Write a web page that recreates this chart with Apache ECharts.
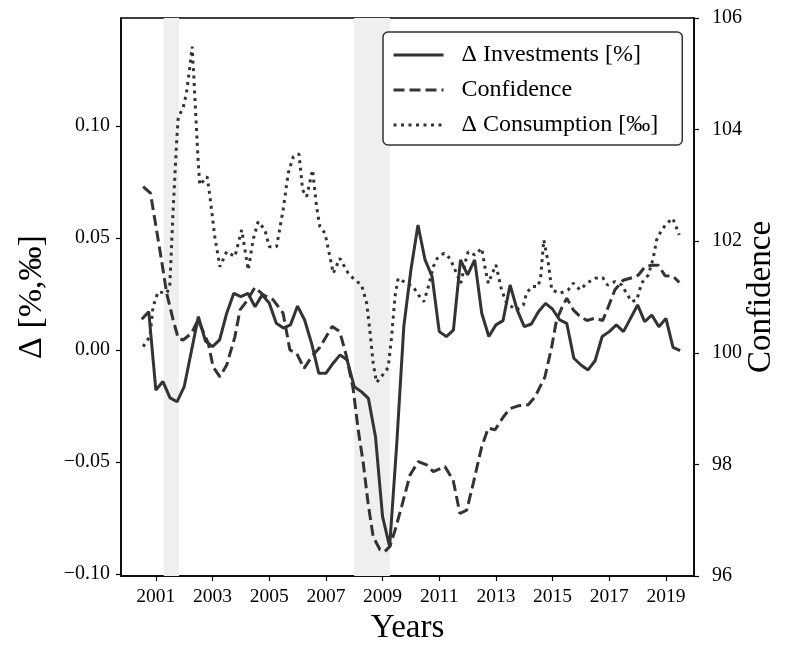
<!DOCTYPE html>
<html>
<head>
<meta charset="utf-8">
<script src="https://cdn.jsdelivr.net/npm/echarts@6/dist/echarts.min.js"></script>
<style>
  html, body { margin: 0; padding: 0; background: #fff; }
  #chart { width: 788px; height: 657px; }
</style>
</head>
<body>
<div id="chart"></div>
<script>
// quarterly dates (decimal years) for investments
var quarters = [2000.5, 2000.75,
  2001, 2001.25, 2001.5, 2001.75, 2002, 2002.25, 2002.5, 2002.75,
  2003, 2003.25, 2003.5, 2003.75, 2004, 2004.25, 2004.5, 2004.75,
  2005, 2005.25, 2005.5, 2005.75, 2006, 2006.25, 2006.5, 2006.75,
  2007, 2007.25, 2007.5, 2007.75, 2008, 2008.25, 2008.5, 2008.75,
  2009, 2009.25, 2009.5, 2009.75, 2010, 2010.25, 2010.5, 2010.75,
  2011, 2011.25, 2011.5, 2011.75, 2012, 2012.25, 2012.5, 2012.75,
  2013, 2013.25, 2013.5, 2013.75, 2014, 2014.25, 2014.5, 2014.75,
  2015, 2015.25, 2015.5, 2015.75, 2016, 2016.25, 2016.5, 2016.75,
  2017, 2017.25, 2017.5, 2017.75, 2018, 2018.25, 2018.5, 2018.75,
  2019, 2019.25, 2019.5];

var investValues = [0.0137, 0.0171,
  -0.0179, -0.0141, -0.0214, -0.0231, -0.0164, -0.0008, 0.0149, 0.004,
  0.0015, 0.0045, 0.0164, 0.0253, 0.0238, 0.0253, 0.0193, 0.0246,
  0.021, 0.0119, 0.0098, 0.0112, 0.0196, 0.0134, 0.0027, -0.0104,
  -0.0104, -0.006, -0.0022, -0.0045, -0.0164, -0.0186, -0.0216, -0.0387,
  -0.0744, -0.0878, -0.042, 0.0105, 0.0357, 0.0558, 0.0402, 0.0327,
  0.0082, 0.006, 0.0089, 0.0402, 0.0335, 0.0402, 0.0164, 0.006,
  0.0112, 0.0131, 0.029, 0.0179, 0.0104, 0.0116, 0.0171, 0.0208,
  0.0182, 0.0134, 0.0119, -0.0037, -0.0067, -0.0089, -0.0048, 0.006,
  0.0082, 0.0112, 0.0082, 0.0141, 0.0201, 0.0126, 0.0156, 0.0104,
  0.0141, 0.0012, -0.0003];

// confidence index (right axis)
var confYears = [2000.55, 2000.81, 2001.2, 2001.38, 2001.61, 2001.79, 2001.96, 2002.26, 2002.49, 2002.85,
  2003.02, 2003.26, 2003.5, 2003.79, 2003.97, 2004.2, 2004.49, 2004.79, 2005.14, 2005.49,
  2005.73, 2005.97, 2006.23, 2006.5, 2006.79, 2007.22, 2007.49, 2007.73, 2007.96, 2008.14,
  2008.32, 2008.49, 2008.67, 2008.91, 2009.08, 2009.26, 2009.44, 2009.67, 2009.97, 2010.26,
  2010.56, 2010.79, 2011.2, 2011.49, 2011.73, 2011.97, 2012.2, 2012.5, 2012.73, 2012.97,
  2013.26, 2013.5, 2013.79, 2014.14, 2014.38, 2014.73, 2014.97, 2015.14, 2015.32, 2015.5,
  2015.73, 2015.97, 2016.21, 2016.5, 2016.77, 2016.97, 2017.2, 2017.49, 2017.83, 2018.02,
  2018.26, 2018.5, 2018.73, 2018.97, 2019.26, 2019.47];
var confValues = [102.98, 102.86, 101.66, 101.07, 100.59, 100.26, 100.23, 100.35, 100.59, 100.17,
  99.75, 99.57, 99.78, 100.29, 100.77, 100.92, 101.17, 101.04, 100.95, 100.71,
  100.05, 99.99, 99.72, 99.93, 100.10, 100.47, 100.38, 99.93, 99.36, 98.62,
  98.02, 97.30, 96.70, 96.47, 96.44, 96.53, 96.82, 97.24, 97.81, 98.05,
  97.99, 97.87, 97.96, 97.72, 97.12, 97.18, 97.66, 98.32, 98.65, 98.62,
  98.85, 99.0, 99.05, 99.07, 99.21, 99.57, 100.11, 100.59, 100.80, 100.98,
  100.77, 100.65, 100.58, 100.62, 100.58, 100.83, 101.13, 101.30, 101.35, 101.39,
  101.54, 101.57, 101.57, 101.38, 101.37, 101.26];

// consumption (left axis)
var consYears = [2000.55, 2000.79, 2000.9, 2001.08, 2001.38, 2001.49, 2001.61, 2001.73, 2001.79, 2001.96,
  2002.08, 2002.2, 2002.28, 2002.34, 2002.4, 2002.49, 2002.55, 2002.81, 2002.91, 2003.08,
  2003.26, 2003.5, 2003.79, 2004.03, 2004.26, 2004.43, 2004.61, 2004.85, 2005.0, 2005.26,
  2005.49, 2005.67, 2005.85, 2006.05, 2006.18, 2006.32, 2006.53, 2006.67, 2006.79, 2006.97,
  2007.14, 2007.26, 2007.49, 2007.79, 2008.02, 2008.26, 2008.44, 2008.55, 2008.67, 2008.79,
  2009.0, 2009.2, 2009.32, 2009.44, 2009.55, 2009.85, 2010.08, 2010.26, 2010.46, 2010.65,
  2010.79, 2010.93, 2011.17, 2011.38, 2011.61, 2011.76, 2011.94, 2012.02, 2012.26, 2012.5,
  2012.61, 2012.73, 2012.85, 2013.0, 2013.2, 2013.38, 2013.56, 2013.73, 2013.97, 2014.08,
  2014.26, 2014.49, 2014.58, 2014.69, 2014.85, 2014.97, 2015.26, 2015.55, 2015.73, 2015.97,
  2016.2, 2016.5, 2016.77, 2016.94, 2017.2, 2017.44, 2017.61, 2017.79, 2017.97, 2018.14,
  2018.38, 2018.55, 2018.67, 2018.85, 2019.03, 2019.24, 2019.38, 2019.47];
var consValues = [0.0015, 0.006, 0.0193, 0.026, 0.0253, 0.0283, 0.0625, 0.0923, 0.104, 0.108,
  0.1146, 0.1265, 0.1354, 0.122, 0.107, 0.0848, 0.0737, 0.0774, 0.0684, 0.0506,
  0.0372, 0.0439, 0.0417, 0.0536, 0.0357, 0.0491, 0.0573, 0.0536, 0.0461, 0.0461,
  0.0625, 0.0789, 0.0863, 0.0875, 0.0714, 0.0684, 0.0804, 0.064, 0.055, 0.0521,
  0.0417, 0.0342, 0.0409, 0.0342, 0.0313, 0.029, 0.0208, 0.0089, -0.006, -0.0145,
  -0.0112, -0.0078, 0.006, 0.024, 0.032, 0.0298, 0.0283, 0.0246, 0.0216, 0.0298,
  0.0372, 0.0409, 0.0432, 0.0409, 0.0342, 0.0298, 0.0402, 0.0439, 0.0424, 0.0454,
  0.0372, 0.0298, 0.0335, 0.038, 0.0268, 0.0208, 0.0193, 0.0179, 0.0201, 0.0253,
  0.0283, 0.0283, 0.0327, 0.0491, 0.0387, 0.0268, 0.0253, 0.0268, 0.0298, 0.0268,
  0.0298, 0.032, 0.0323, 0.029, 0.0305, 0.029, 0.0253, 0.0216, 0.0223, 0.0298,
  0.0335, 0.0409, 0.0491, 0.0536, 0.0565, 0.0588, 0.0543, 0.0513];

// shaded recession periods
var recessions = [[2001.28, 2001.82], [2008.0, 2009.26]];

// tick labels
var yearTicks = [2001, 2003, 2005, 2007, 2009, 2011, 2013, 2015, 2017, 2019];
var leftTicks = [-0.10, -0.05, 0.00, 0.05, 0.10];

function zip(xs, ys) {
  return xs.map(function (x, i) { return [x, ys[i]]; });
}

var FONT = 'Liberation Serif';
var LINE = '#333333';

var myChart = echarts.init(document.getElementById('chart'), null, { renderer: 'canvas' });

var option = {
  animation: false,
  backgroundColor: '#fff',
  grid: {
    left: 121,
    right: 94,
    top: 18,
    bottom: 81,
    outerBoundsMode: 'none',
    show: true,
    borderColor: '#000',
    borderWidth: 1.5,
    backgroundColor: 'transparent'
  },
  legend: {
    orient: 'vertical',
    left: 383,
    top: 32,
    padding: [11, 24, 8, 9],
    itemWidth: 50,
    itemHeight: 20,
    itemGap: 11,
    borderColor: '#333',
    borderWidth: 1.5,
    borderRadius: 5,
    backgroundColor: '#fff',
    // hide the marker symbol, keep only the line sample
    itemStyle: { opacity: 0 },
    lineStyle: { width: 3 },
    textStyle: {
      fontFamily: FONT,
      fontSize: 24,
      color: '#000',
      padding: [0, 0, 0, 13]
    },
    data: ['Δ Investments [%]', 'Confidence', 'Δ Consumption [‰]']
  },
  xAxis: {
    type: 'value',
    min: 1999.77,
    max: 2019.99,
    name: 'Years',
    nameLocation: 'middle',
    nameGap: 34,
    nameTextStyle: { fontFamily: FONT, fontSize: 33, color: '#000' },
    axisLine: { show: true, onZero: false, lineStyle: { color: '#000', width: 1.5 } },
    axisTick: { show: true, length: 5, customValues: yearTicks, lineStyle: { color: '#000', width: 1.2 } },
    axisLabel: {
      customValues: yearTicks,
      margin: 11,
      fontFamily: FONT,
      fontSize: 19.5,
      color: '#000',
      formatter: function (v) { return String(Math.round(v)); }
    },
    splitLine: { show: false }
  },
  yAxis: [
    {
      type: 'value',
      min: -0.1009,
      max: 0.1482,
      position: 'left',
      name: 'Δ [%,‰]',
      nameLocation: 'middle',
      nameRotate: 90,
      nameGap: 72,
      nameTextStyle: { fontFamily: FONT, fontSize: 34, color: '#000' },
      axisLine: { show: true, onZero: false, lineStyle: { color: '#000', width: 1.5 } },
      axisTick: { show: true, length: 5, customValues: leftTicks, lineStyle: { color: '#000', width: 1.2 } },
      axisLabel: {
        customValues: leftTicks,
        margin: 11,
        fontFamily: FONT,
        fontSize: 20,
        color: '#000',
        formatter: function (v) {
          return (v < -1e-9 ? '\u2212' : '') + Math.abs(v).toFixed(2);
        }
      },
      splitLine: { show: false }
    },
    {
      type: 'value',
      min: 96,
      max: 106,
      interval: 2,
      position: 'right',
      name: 'Confidence',
      nameLocation: 'middle',
      nameRotate: 90,
      nameGap: 51,
      nameMoveOverlap: false,
      nameTextStyle: { fontFamily: FONT, fontSize: 33, color: '#000' },
      axisLine: { show: true, onZero: false, lineStyle: { color: '#000', width: 1.5 } },
      axisTick: { show: true, length: 5, lineStyle: { color: '#000', width: 1.2 } },
      axisLabel: {
        margin: 18,
        fontFamily: FONT,
        fontSize: 20,
        color: '#000'
      },
      splitLine: { show: false }
    }
  ],
  series: [
    {
      name: 'Δ Investments [%]',
      type: 'line',
      yAxisIndex: 0,
      symbol: 'none',
      data: zip(quarters, investValues),
      lineStyle: { color: LINE, width: 3, type: 'solid' },
      itemStyle: { color: LINE },
      z: 3,
      markArea: {
        silent: true,
        itemStyle: { color: '#efefef' },
        data: recessions.map(function (r) { return [{ xAxis: r[0] }, { xAxis: r[1] }]; })
      }
    },
    {
      name: 'Confidence',
      type: 'line',
      yAxisIndex: 1,
      symbol: 'none',
      data: zip(confYears, confValues),
      lineStyle: { color: LINE, width: 3, type: [11, 5] },
      itemStyle: { color: LINE },
      z: 4
    },
    {
      name: 'Δ Consumption [‰]',
      type: 'line',
      yAxisIndex: 0,
      symbol: 'none',
      data: zip(consYears, consValues),
      lineStyle: { color: LINE, width: 3, type: [3, 4.5], cap: 'butt' },
      itemStyle: { color: LINE },
      z: 4
    }
  ]
};

myChart.setOption(option);
window.addEventListener('resize', function () {
  myChart.resize();
});
</script>
</body>
</html>
